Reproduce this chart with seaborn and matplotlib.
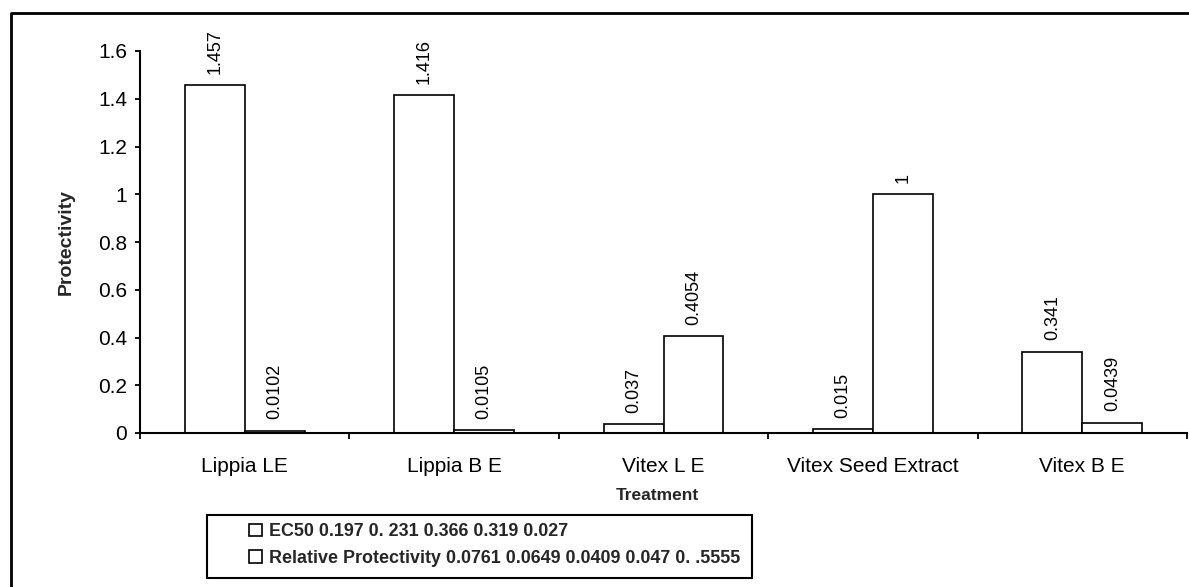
import numpy as np
import pandas as pd
import matplotlib
matplotlib.use("Agg")
import matplotlib.pyplot as plt
from matplotlib.lines import Line2D
from matplotlib.patches import Rectangle
import seaborn as sns

# ---- data ----
categories = ["Lippia LE", "Lippia B E", "Vitex L E", "Vitex Seed Extract", "Vitex B E"]
series_names = ["EC50 0.197 0. 231 0.366 0.319 0.027",
                "Relative Protectivity 0.0761 0.0649 0.0409 0.047 0. .5555"]
series1 = [1.457, 1.416, 0.037, 0.015, 0.341]
series2 = [0.0102, 0.0105, 0.4054, 1, 0.0439]
y_ticks = [0, 0.2, 0.4, 0.6, 0.8, 1.0, 1.2, 1.4, 1.6]
y_tick_labels = ["0", "0.2", "0.4", "0.6", "0.8", "1", "1.2", "1.4", "1.6"]

df = pd.DataFrame({
    "Treatment": categories * 2,
    "Protectivity": series1 + series2,
    "Series": [series_names[0]] * len(categories) + [series_names[1]] * len(categories),
})

sns.set_theme(style="white")
plt.rcParams["font.family"] = ["Liberation Sans", "DejaVu Sans"]

W, H = 1189, 587
fig = plt.figure(figsize=(W / 100, H / 100), dpi=100)
ax = fig.add_axes([140 / W, 1 - 433 / H, 1047 / W, 382 / H])

sns.barplot(data=df, x="Treatment", y="Protectivity", hue="Series",
            palette=["white", "white"], edgecolor="black", linewidth=1.2,
            width=0.573, ax=ax, legend=True, errorbar=None, saturation=1)

for c in ax.containers:
    ax.bar_label(c, fmt="%g", rotation=90, padding=8, fontsize=13, color="black")

handles, labels = ax.get_legend_handles_labels()
ax.get_legend().remove()

ax.set_ylim(0, 1.6)
ax.set_yticks(y_ticks)
ax.set_yticklabels(y_tick_labels, fontsize=15)
ax.set_xlim(-0.5, len(categories) - 0.5)
ax.set_xticks(np.arange(-0.5, len(categories), 1.0))
ax.set_xticklabels([])
ax.set_xticks(np.arange(len(categories)), minor=True)
ax.set_xticklabels(categories, minor=True, fontsize=15)

ax.tick_params(axis="y", which="major", direction="out", length=3.6, width=1.3,
               pad=5.5, left=True, colors="black")
ax.tick_params(axis="x", which="major", direction="out", length=4.5, width=1.3,
               bottom=True, colors="black")
ax.tick_params(axis="x", which="minor", length=0, pad=17.5, colors="black")

for s in ["top", "right"]:
    ax.spines[s].set_visible(False)
for s in ["left", "bottom"]:
    ax.spines[s].set_color("black")
    ax.spines[s].set_linewidth(1.5)

ax.set_xlabel("Treatment", fontsize=12.5, fontweight="bold")
ax.xaxis.set_label_coords(0.494, -0.145)
ax.set_ylabel("Protectivity", fontsize=14, fontweight="bold")
ax.yaxis.set_label_coords(-0.062, 0.5)
ax.patch.set_alpha(0)

# legend
for h in handles:
    h.set_edgecolor("black")
    h.set_facecolor("white")
leg = fig.legend(handles, labels, loc="center left",
                 bbox_to_anchor=(240 / W, 1 - 545 / H), bbox_transform=fig.transFigure,
                 frameon=False, borderpad=0, handlelength=0.7, handleheight=0.7,
                 handletextpad=0.4, labelspacing=0.52,
                 prop={"size": 12.9, "weight": "bold"})
fig.add_artist(Rectangle((207 / W, 1 - 578 / H), 545 / W, 63 / H,
                         transform=fig.transFigure, fill=False, ec="black", lw=1.5))

# figure border (left and top)
fig.add_artist(Line2D([11 / W, 11 / W, 1.0], [0.0, 1 - 13 / H, 1 - 13 / H],
                      transform=fig.transFigure, color="black", lw=2))

fig.savefig("out.png", dpi=100, facecolor="white")
